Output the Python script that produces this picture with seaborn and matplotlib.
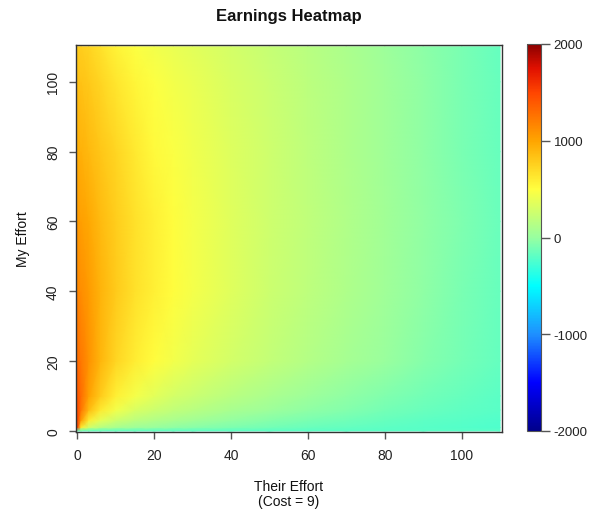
import numpy as np
import matplotlib
matplotlib.use("Agg")
import matplotlib.pyplot as plt
from matplotlib.colors import LinearSegmentedColormap, Normalize
import seaborn as sns

# ---- data ----
their_effort = [0, 1, 3, 6, 10, 15, 20, 25, 30, 40, 50, 60, 70, 80, 90, 100, 110]
my_effort = [0, 1, 3, 6, 10, 20, 40, 60, 80, 100, 110]

earn_my_0   = [-200, -200, -200, -200, -200, -200, -200, -200, -200, -200, -200, -200, -200, -200, -200, -200, -200]
earn_my_1   = [1600, 600, 280, 150, 80, 30, 0, -30, -50, -90, -120, -150, -170, -190, -210, -225, -240]
earn_my_3   = [1550, 1050, 600, 380, 250, 170, 120, 80, 50, -10, -60, -100, -130, -160, -190, -210, -230]
earn_my_6   = [1500, 1250, 880, 620, 440, 320, 250, 200, 160, 85, 25, -25, -70, -110, -150, -180, -210]
earn_my_10  = [1430, 1290, 1020, 790, 580, 450, 360, 295, 245, 160, 90, 30, -25, -75, -120, -160, -200]
earn_my_20  = [1320, 1240, 1100, 910, 730, 600, 510, 440, 380, 285, 205, 135, 70, 10, -55, -115, -170]
earn_my_40  = [1170, 1120, 1050, 920, 790, 670, 580, 510, 450, 345, 255, 180, 110, 40, -30, -95, -160]
earn_my_60  = [1060, 1030, 980, 880, 780, 670, 580, 510, 450, 350, 265, 190, 120, 50, -20, -85, -155]
earn_my_80  = [950, 930, 890, 820, 730, 620, 530, 480, 430, 340, 260, 185, 115, 45, -25, -95, -160]
earn_my_100 = [850, 835, 800, 730, 640, 550, 490, 440, 400, 315, 245, 175, 110, 40, -25, -95, -160]
earn_my_110 = [780, 770, 740, 670, 570, 490, 440, 400, 360, 290, 225, 160, 95, 30, -35, -100, -170]

cbar_ticks = [-2000, -1000, 0, 1000, 2000]
x_ticks = [0, 20, 40, 60, 80, 100]
y_ticks = [0, 20, 40, 60, 80, 100]

earnings = np.array([earn_my_0, earn_my_1, earn_my_3, earn_my_6, earn_my_10, earn_my_20,
                     earn_my_40, earn_my_60, earn_my_80, earn_my_100, earn_my_110], dtype=float)

# ---- style ----
sns.set_theme(style="white")
plt.rcParams['font.family'] = ['Liberation Sans', 'DejaVu Sans']

cmap = LinearSegmentedColormap.from_list("earn", [
    (0.0, "#00008B"), (0.125, "#0000FF"), (0.25, "#1E90FF"), (0.375, "#00FFFF"),
    (0.5, "#98FFA0"), (0.625, "#FFFF40"), (0.75, "#FFA500"), (0.875, "#FF4500"),
    (0.9375, "#E01000"), (1.0, "#8B0000")], N=512)
norm = Normalize(vmin=-2000, vmax=2000)

W, H = 589, 510
fig = plt.figure(figsize=(W / 100, H / 100), dpi=100)
ax = fig.add_axes([76 / W, 1 - 433 / H, (502 - 76) / W, (433 - 46) / H])

mesh = ax.pcolormesh(their_effort, my_effort, earnings, shading="gouraud",
                     cmap=cmap, norm=norm, rasterized=True)
ax.set_xlim(-0.3, 110.5)
ax.set_ylim(-0.3, 110.5)

ax.set_xticks(x_ticks)
ax.set_yticks(y_ticks)
ax.tick_params(axis="both", which="both", direction="out", length=5, width=1,
               color="#555555", labelsize=10, labelcolor="#222222",
               bottom=True, left=True, pad=6.5)
for lab in ax.get_yticklabels():
    lab.set_rotation(90)
    lab.set_va("center")
for sp in ax.spines.values():
    sp.set_color("#333333")
    sp.set_linewidth(1.0)

ax.set_xlabel("Their Effort\n(Cost = 9)", fontsize=10, color="#111111",
              linespacing=1.15)
ax.xaxis.set_label_coords(0.5, -0.121)
ax.set_ylabel("My Effort", fontsize=10, color="#111111")
ax.yaxis.set_label_coords(-0.108, 0.5)
fig.text(289 / W, 1 - 16 / H, "Earnings Heatmap", ha="center", va="center",
         fontsize=12, fontweight="bold", color="#111111")

# colour bar
cax = fig.add_axes([527 / W, 1 - 432 / H, 14 / W, (432 - 45) / H])
cb = fig.colorbar(mesh, cax=cax, ticks=cbar_ticks)
cb.ax.set_yticklabels([str(t) for t in cbar_ticks])
cb.ax.tick_params(direction="out", length=6.5, width=1, color="#555555",
                  labelsize=9.5, labelcolor="#222222", pad=2.5, right=True)
cb.outline.set_edgecolor("#555555")
cb.outline.set_linewidth(0.8)

fig.savefig("out.png", dpi=100)
